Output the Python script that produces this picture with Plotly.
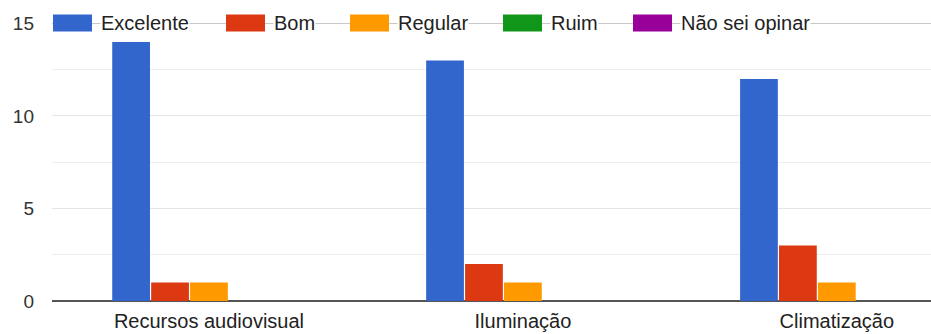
import plotly.graph_objects as go

# Survey answers per item
categories = ["Recursos audiovisual", "Iluminação", "Climatização"]
series_names = ["Excelente", "Bom", "Regular", "Ruim", "Não sei opinar"]
excelente = [14, 13, 12]
bom = [1, 2, 3]
regular = [1, 1, 1]
ruim = [0, 0, 0]
nao_sei = [0, 0, 0]
y_ticks = [0, 5, 10, 15]

series_values = [excelente, bom, regular, ruim, nao_sei]
colors = ["#3366cc", "#dc3912", "#ff9900", "#109618", "#990099"]

fig = go.Figure()
for name, vals, col in zip(series_names, series_values, colors):
    fig.add_trace(go.Bar(x=categories, y=vals, name=name, marker_color=col,
                         marker_line_width=0, showlegend=False))

W, H = 931, 334
ML, MT, MB, MR = 52, 23, 33, 0
plot_w = W - ML - MR
plot_h = H - MT - MB

font_family = "Liberation Sans, Arial, sans-serif"
fsize = 20
y_top = y_ticks[-1]

# Legend laid over the top gridline: swatch + label per series
swatch_w, swatch_h = 39, 17
legend_x = [53, 226, 350, 503, 633]  # pixel start of each legend item
shapes = [dict(type="line", xref="paper", yref="y", x0=0, x1=1, y0=y_top, y1=y_top,
               line=dict(color="#c8c8c8", width=1.5), layer="above")]
annotations = []
for name, col, px in zip(series_names, colors, legend_x):
    x0 = (px - ML) / plot_w
    x1 = (px + swatch_w - ML) / plot_w
    dy = (swatch_h / 2) / plot_h
    shapes.append(dict(type="rect", xref="paper", yref="paper", x0=x0, x1=x1,
                       y0=1 - dy, y1=1 + dy, fillcolor=col, line=dict(width=0),
                       layer="above"))
    annotations.append(dict(text=name, xref="paper", yref="paper",
                            x=(px + swatch_w + 8 - ML) / plot_w, y=1,
                            xanchor="left", yanchor="middle", showarrow=False,
                            bgcolor="white", borderpad=0,
                            font=dict(size=fsize, color="#222", family=font_family)))

fig.update_layout(
    width=W, height=H,
    margin=dict(l=ML, r=MR, t=MT, b=MB, pad=0),
    paper_bgcolor="white", plot_bgcolor="white",
    barmode="group", bargap=0.38, bargroupgap=0.03,
    font=dict(family=font_family, size=fsize, color="#222"),
    shapes=shapes, annotations=annotations,
    xaxis=dict(range=[-0.5, 2.3], showgrid=False, showline=False, ticks="",
               tickfont=dict(size=fsize, color="#222"), ticklabelstandoff=6),
    yaxis=dict(range=[0, y_top + 0.02], tickvals=y_ticks, showgrid=True, gridcolor="#e6e6e6",
               gridwidth=1, zeroline=True, zerolinecolor="#555", zerolinewidth=2,
               minor=dict(dtick=2.5, showgrid=True, gridcolor="#eeeeee"),
               tickfont=dict(size=19, color="#333"), ticks="", ticklabelstandoff=17),
)

fig.write_html("out.html")
